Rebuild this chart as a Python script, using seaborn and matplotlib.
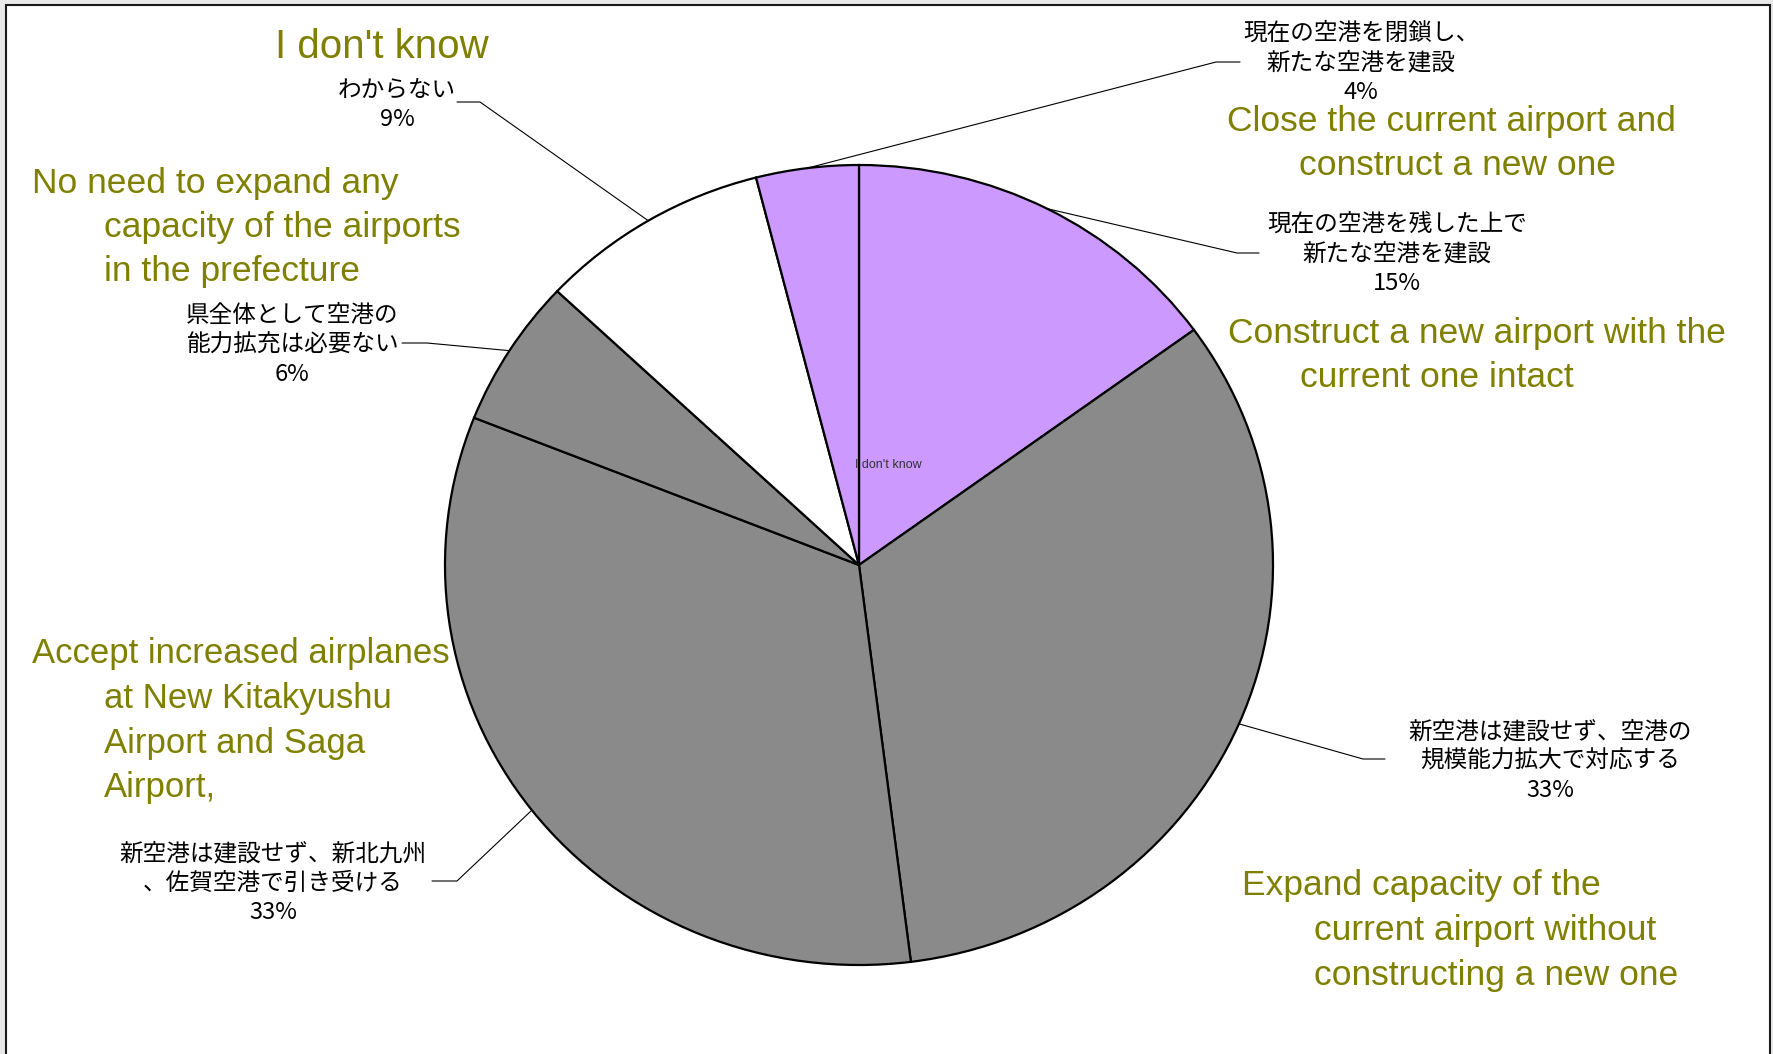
import matplotlib
matplotlib.use("Agg")
import matplotlib.pyplot as plt
from matplotlib.patches import Rectangle
import numpy as np
import seaborn as sns

# ---------------- data ----------------
values = [15, 33, 33, 6, 9, 4]
jp_labels = [
    "現在の空港を残した上で\n新たな空港を建設",
    "新空港は建設せず、空港の\n規模能力拡大で対応する",
    "新空港は建設せず、新北九州\n、佐賀空港で引き受ける",
    "県全体として空港の\n能力拡充は必要ない",
    "わからない",
    "現在の空港を閉鎖し、\n新たな空港を建設",
]
en_labels = [
    "Construct a new airport with the\ncurrent one intact",
    "Expand capacity of the\ncurrent airport without\nconstructing a new one",
    "Accept increased airplanes\nat New Kitakyushu\nAirport and Saga\nAirport,",
    "No need to expand any\ncapacity of the airports\nin the prefecture",
    "I don't know",
    "Close the current airport and\nconstruct a new one",
]
slice_colors = ["#CC99FF", "#8a8a8a", "#8a8a8a", "#8a8a8a", "#ffffff", "#CC99FF"]

# ---------------- layout (pixels) ----------------
W, H = 1774, 1054
CX, CY, RX, RY = 859, 565, 414, 400
jp_center = [(1397, 254), (1550, 761), (273, 883), (292, 345), (397, 105), (1361, 63)]
knee = [(1237, 253), (1363, 759), (457, 881), (427, 343), (480, 102), (1216, 62)]
leader_end = [(1259, 253), (1385, 759), (432, 881), (402, 343), (457, 102), (1240, 62)]
en_pos = [(1228, 333), (1242, 886), (32, 654), (32, 183), (275, 47), (1227, 121)]
en_size = [25.5, 25.5, 25, 25.5, 29, 25.5]
EN_INDENT = 72
EN_SPACING = 44.5
JP_SPACING = 29.5
OLIVE = "#808000"

sns.set_style("white")
plt.rcParams["font.family"] = ["Noto Sans CJK JP", "DejaVu Sans"]

fig = plt.figure(figsize=(W / 100, H / 100), dpi=100)
fig.patch.set_facecolor("#e9e9e9")

# background frame
ax_bg = fig.add_axes([0, 0, 1, 1])
ax_bg.set_xlim(0, W)
ax_bg.set_ylim(H, 0)
ax_bg.axis("off")
ax_bg.add_patch(Rectangle((6.5, 4.5), 1764, 1100, facecolor="white",
                          edgecolor="#1a1a1a", linewidth=1.5))

# pie axes (slightly elliptical)
pad = 1.1
pw, ph = 2 * RX * pad, 2 * RY * pad
pax = fig.add_axes([(CX - RX * pad) / W, (H - CY - RY * pad) / H, pw / W, ph / H])
pax.set_zorder(1)
pax.patch.set_alpha(0)
wedges, _ = pax.pie(values, colors=slice_colors, startangle=90, counterclock=False,
                    radius=1, wedgeprops=dict(edgecolor="black", linewidth=1.6))
pax.set_aspect("auto")
pax.set_xlim(-pad, pad)
pax.set_ylim(-pad, pad)
pax.axis("off")
pax.text(0.07, 0.25, "I don't know", fontsize=9, color="#333333",
         family=["Liberation Sans", "DejaVu Sans"], ha="center", va="center")

# overlay axes for labels
ax = fig.add_axes([0, 0, 1, 1])
ax.set_zorder(2)
ax.patch.set_alpha(0)
ax.set_xlim(0, W)
ax.set_ylim(H, 0)
ax.axis("off")

fig.canvas.draw()
to_px = ax.transData.inverted()
for i, w in enumerate(wedges):
    mid = np.deg2rad((w.theta1 + w.theta2) / 2)
    disp = pax.transData.transform((np.cos(mid), np.sin(mid)))
    ex, ey = to_px.transform(disp)
    kx, ky = knee[i]
    lx, ly = leader_end[i]
    ax.plot([ex, kx, lx], [ey, ky, ly], color="black", lw=0.8, zorder=1)

    # japanese label + percent
    lines = jp_labels[i].split("\n") + [f"{values[i]}%"]
    n = len(lines)
    x0, y0 = jp_center[i]
    for j, t in enumerate(lines):
        ax.text(x0, y0 + (j - (n - 1) / 2) * JP_SPACING, t, fontsize=17,
                color="black", ha="center", va="center")

    # english annotation
    ex0, ey0 = en_pos[i]
    for j, t in enumerate(en_labels[i].split("\n")):
        ax.text(ex0 + (EN_INDENT if j > 0 else 0), ey0 + j * EN_SPACING, t,
                fontsize=en_size[i], color=OLIVE, ha="left", va="center",
                family=["Liberation Sans", "DejaVu Sans"])

fig.savefig("out.png", dpi=100, facecolor=fig.get_facecolor())
